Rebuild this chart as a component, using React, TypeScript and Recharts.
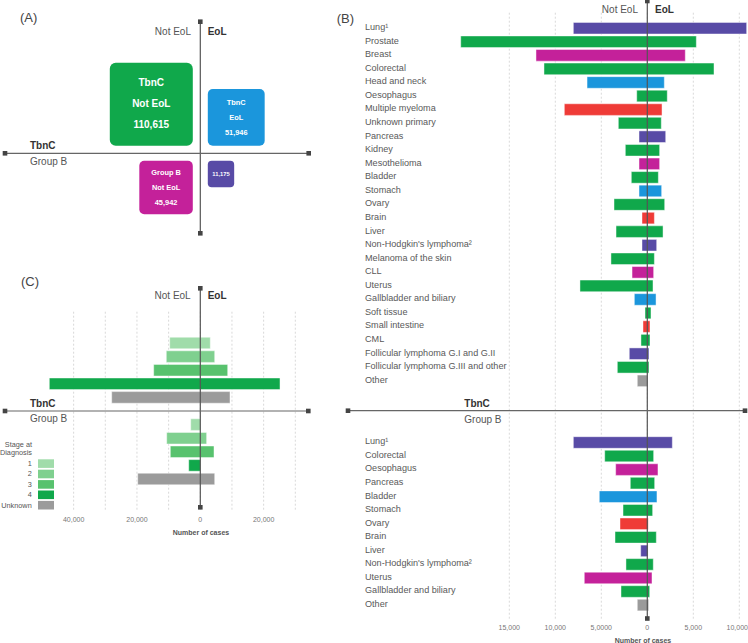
import React from 'react';
import { BarChart, Bar, XAxis, YAxis, CartesianGrid, Cell, ScatterChart, Scatter, ZAxis } from 'recharts';

const FONT = '"Liberation Sans", Arial, Helvetica, sans-serif';

// ---------- Panel A ----------
const aGroups = ['TbnC', 'TbnC', 'Group B', 'Group B'];
const aStatus = ['Not EoL', 'EoL', 'Not EoL', 'EoL'];
const aValues = [110615, 51946, 45942, 11175];

// ---------- Panel B (TbnC) ----------
const bTopCats = [
  'Lung¹', 'Prostate', 'Breast', 'Colorectal', 'Head and neck', 'Oesophagus', 'Multiple myeloma',
  'Unknown primary', 'Pancreas', 'Kidney', 'Mesothelioma', 'Bladder', 'Stomach', 'Ovary', 'Brain',
  'Liver', "Non-Hodgkin's lymphoma²", 'Melanoma of the skin', 'CLL', 'Uterus', 'Gallbladder and biliary',
  'Soft tissue', 'Small intestine', 'CML', 'Follicular lymphoma G.I and G.II',
  'Follicular lymphoma G.III and other', 'Other',
];
const bTopNotEol = [8040, 20280, 12100, 11230, 6550, 1150, 9020, 3150, 900, 2390, 900, 1740, 900, 3620, 580, 3400, 580, 3950, 1660, 7320, 1410, 250, 470, 690, 1960, 3260, 1090];
const bTopEol = [10800, 5330, 4130, 7250, 1850, 2170, 1600, 1520, 2000, 1340, 1340, 1200, 1560, 1890, 770, 1710, 1020, 770, 690, 620, 950, 400, 290, 290, 180, 180, 40];

// ---------- Panel B (Group B) ----------
const bBotCats = [
  'Lung¹', 'Colorectal', 'Oesophagus', 'Pancreas', 'Bladder', 'Stomach', 'Ovary', 'Brain', 'Liver',
  "Non-Hodgkin's lymphoma²", 'Uterus', 'Gallbladder and biliary', 'Other',
];
const bBotNotEol = [8040, 4630, 3440, 1850, 5220, 2640, 2970, 3510, 720, 2320, 6850, 2860, 1090];
const bBotEol = [2720, 690, 1160, 800, 1050, 580, 100, 980, 80, 650, 510, 260, 150];

const bTicks = [-15000, -10000, -5000, 0, 5000, 10000];
const bTickLabels = ['15,000', '10,000', '5,0000', '0', '5,000', '10,000'];

// ---------- Panel C ----------
const cStages = ['1', '2', '3', '4', 'Unknown'];
const cTbncNotEol = [9660, 10740, 14720, 47680, 27980];
const cTbncEol = [3160, 4550, 8650, 25170, 9380];
const cGroupBNotEol = [3030, 10610, 9470, 3660, 19770];
const cGroupBEol = [80, 2000, 4330, 50, 4550];
const cTicks = [-40000, -30000, -20000, -10000, 0, 10000, 20000, 30000];
const cTickLabels = ['40,000', '', '20,000', '', '0', '', '20,000', ''];

// ---------- Styles ----------
const C = {
  green: '#10a84b',
  blue: '#1b96dc',
  magenta: '#c4219a',
  purple: '#584ba6',
  red: '#ef3b37',
  gray: '#9b9b9b',
};
const aColors = [C.green, C.blue, C.magenta, C.purple];
const cycle = [C.purple, C.green, C.magenta, C.green, C.blue, C.green, C.red, C.green];
const bTopColors = bTopCats.map((n, i) => (n === 'Other' ? C.gray : cycle[i % 8]));
const bBotColors = bBotCats.map((n, i) => (n === 'Other' ? C.gray : cycle[i % 8]));
const cStageColors = ['#a0dcaa', '#7fd08f', '#58c26e', '#10a84b', '#9b9b9b'];

const B_DOMAIN: [number, number] = [-32533, 10945];
const C_DOMAIN: [number, number] = [-61670, 34230];

// ---------- data tables ----------
const aData = aValues.map((v, i) => ({ x: 0, y: 0, value: v, group: aGroups[i], status: aStatus[i] }));
const bTopData = bTopCats.map((name, i) => ({ name, range: [-bTopNotEol[i], bTopEol[i]] }));
const bBotData = bBotCats.map((name, i) => ({ name, range: [-bBotNotEol[i], bBotEol[i]] }));
const cData = [
  ...cStages.map((s, i) => ({ name: 'TbnC ' + s, range: [-cTbncNotEol[i], cTbncEol[i]], color: cStageColors[i] })),
  { name: 'gap', range: null as any, color: 'none' },
  ...cStages.map((s, i) => ({ name: 'Group B ' + s, range: [-cGroupBNotEol[i], cGroupBEol[i]], color: cStageColors[i] })),
];

const fmt = (v: number) => v.toLocaleString('en-US');

const BoxShape = (props: any) => {
  const { cx, cy, payload, fill } = props;
  const size = props.size != null ? props.size : Math.PI * Math.pow((props.width || 0) / 2, 2);
  const side = Math.sqrt(size);
  const gap = 7.5;
  const right = payload.status === 'EoL';
  const top = payload.group === 'TbnC';
  const x = right ? cx + gap : cx - gap - side;
  const y = top ? cy - gap - side : cy + gap;
  const rx = 3 + side * 0.035;
  const f = side >= 70 ? 10 : side >= 40 ? 7.4 : 5.8;
  const ls = f * 2.07;
  const lines = side >= 40 ? [payload.group, payload.status, fmt(payload.value)] : [fmt(payload.value)];
  const mid = y + side / 2 - (side >= 70 ? 1 : 0);
  const start = mid - ((lines.length - 1) * ls) / 2;
  return (
    <g>
      <rect x={x} y={y} width={side} height={side} rx={rx} ry={rx} fill={fill} />
      {lines.map((t, i) => (
        <text key={i} x={x + side / 2} y={start + i * ls} dy={f * 0.35} textAnchor="middle"
          fontSize={f} fontWeight="bold" fill="#fff" fontFamily={FONT}>{t}</text>
      ))}
    </g>
  );
};

const CatTick = (props: any) => (
  <text x={props.x} y={props.y} dy={1.9} textAnchor="start" fontSize={9.1} fill="#595959" fontFamily={FONT}>
    {props.payload.value}
  </text>
);

const BTick = (props: any) => {
  const i = bTicks.indexOf(props.payload.value);
  const nearEdge = props.x + 10.5 > 748 - 330;
  return (
    <text x={nearEdge ? 418 : props.x} y={props.y} dy="0.71em" textAnchor={nearEdge ? 'end' : 'middle'}
      fontSize={7} fill="#777" fontFamily={FONT}>
      {bTickLabels[i]}
    </text>
  );
};

const CTick = (props: any) => {
  const i = cTicks.indexOf(props.payload.value);
  return (
    <text x={props.x} y={props.y} dy="0.71em" textAnchor="middle" fontSize={7} fill="#777" fontFamily={FONT}>
      {cTickLabels[i]}
    </text>
  );
};

// grid lines only at the tick values (no lines on the plot edges)
const gridGen = (ticks: number[], domain: [number, number]) => (props: any) => {
  const sc = props && props.xAxis && props.xAxis.scale;
  if (typeof sc === 'function') return ticks.map((t) => sc(t));
  if (sc && typeof sc.map === 'function') return ticks.map((t) => sc.map(t));
  const off = props.offset;
  return ticks.map((t) => off.left + ((t - domain[0]) / (domain[1] - domain[0])) * off.width);
};

const Sq = ({ x, y }: { x: number; y: number }) => <rect x={x - 2.3} y={y - 2.3} width={4.6} height={4.6} fill="#444" />;

const Cross = ({ vx, vy1, vy2, hy, hx1, hx2 }: any) => (
  <g>
    <line x1={vx} x2={vx} y1={vy1} y2={vy2} stroke="#555" strokeWidth={1.2} />
    <line x1={hx1} x2={hx2} y1={hy} y2={hy} stroke="#666" strokeWidth={1.2} />
    <Sq x={vx} y={vy1} />
    <Sq x={vx} y={vy2} />
    <Sq x={hx1} y={hy} />
    <Sq x={hx2} y={hy} />
  </g>
);

const T = (p: any) => <text fontFamily={FONT} fontSize={10} fill="#555" {...p} />;

const barStroke = { stroke: '#ffffff', strokeOpacity: 0.45, strokeWidth: 1 };

export default function App() {
  const abs = (left: number, top: number): React.CSSProperties => ({ position: 'absolute', left, top });
  return (
    <div style={{ position: 'absolute', left: 0, top: 0, width: 748, height: 643, background: '#fff', overflow: 'hidden', fontFamily: FONT }}>
      {/* Panel A */}
      <div style={abs(0, 0)}>
        <ScatterChart width={330} height={250} margin={{ top: 0, right: 0, bottom: 0, left: 0 }}>
          <XAxis type="number" dataKey="x" domain={[-200.3, 129.7]} hide />
          <YAxis type="number" dataKey="y" domain={[-96.7, 153.3]} hide />
          <ZAxis type="number" dataKey="value" domain={[0, Math.max(...aValues)]} range={[0, 6889]} />
          <Scatter data={aData} shape={<BoxShape />} isAnimationActive={false}>
            {aData.map((d, i) => <Cell key={i} fill={aColors[i]} />)}
          </Scatter>
        </ScatterChart>
      </div>

      {/* Panel B top */}
      <div style={abs(330, 0)}>
        <BarChart layout="vertical" width={418} height={643} data={bTopData}
          margin={{ top: 12.7, right: 0, bottom: 23, left: 18 }} barSize={11.6}>
          <CartesianGrid horizontal={false} strokeDasharray="2 2" stroke="#d9d9d9"
            verticalCoordinatesGenerator={gridGen(bTicks, B_DOMAIN)} />
          <XAxis type="number" domain={B_DOMAIN} ticks={bTicks} height={0} tick={false} axisLine={false} tickLine={false} allowDataOverflow />
          <YAxis type="category" dataKey="name" mirror tickSize={0} tickMargin={17} axisLine={false} tickLine={false}
            interval={0} padding={{ top: 8.7, bottom: 232.4 }} tick={<CatTick />} />
          <Bar dataKey="range" isAnimationActive={false} {...barStroke}>
            {bTopData.map((d, i) => <Cell key={i} fill={bTopColors[i]} />)}
          </Bar>
        </BarChart>
      </div>

      {/* Panel B bottom */}
      <div style={abs(330, 0)}>
        <BarChart layout="vertical" width={418} height={643} data={bBotData}
          margin={{ top: 435.7, right: 0, bottom: 0, left: 18 }} barSize={11.6}>
          <XAxis type="number" domain={B_DOMAIN} ticks={bTicks} height={31.2} axisLine={false} tickLine={false}
            tickSize={0} tickMargin={13.4} tick={<BTick />} interval={0} allowDataOverflow />
          <YAxis type="category" dataKey="name" mirror tickSize={0} tickMargin={17} axisLine={false} tickLine={false}
            interval={0} tick={<CatTick />} />
          <Bar dataKey="range" isAnimationActive={false} {...barStroke}>
            {bBotData.map((d, i) => <Cell key={i} fill={bBotColors[i]} />)}
          </Bar>
        </BarChart>
      </div>

      {/* Panel C */}
      <div style={abs(0, 0)}>
        <BarChart layout="vertical" width={330} height={643} data={cData}
          margin={{ top: 311.7, right: 21.3, bottom: 111.3, left: 5 }} barSize={11.6}>
          <CartesianGrid horizontal={false} strokeDasharray="2 2" stroke="#d9d9d9"
            verticalCoordinatesGenerator={gridGen(cTicks, C_DOMAIN)} />
          <XAxis type="number" domain={C_DOMAIN} ticks={cTicks} height={20} axisLine={false} tickLine={false}
            tickSize={0} tickMargin={5.8} tick={<CTick />} interval={0} allowDataOverflow />
          <YAxis type="category" dataKey="name" hide padding={{ top: 24.5, bottom: 25.9 }} />
          <Bar dataKey="range" isAnimationActive={false} {...barStroke}>
            {cData.map((d, i) => <Cell key={i} fill={d.color} />)}
          </Bar>
        </BarChart>
      </div>

      {/* Overlay: axes crosshairs and annotations */}
      <svg width={748} height={643} style={{ position: 'absolute', left: 0, top: 0, pointerEvents: 'none' }}>
        {/* A */}
        <Cross vx={200.3} vy1={21.7} vy2={233.3} hy={153.3} hx1={5} hx2={308.7} />
        <T x={20} y={22} fontSize={13} fill="#444">(A)</T>
        <T x={191} y={35} textAnchor="end">Not EoL</T>
        <T x={207.7} y={35} fontWeight="bold" fill="#333">EoL</T>
        <T x={30} y={148.8} fontWeight="bold" fill="#333">TbnC</T>
        <T x={30} y={164.9}>Group B</T>

        {/* B */}
        <Cross vx={647.3} vy1={1} vy2={618.5} hy={410.7} hx1={348} hx2={745} />
        <T x={336.7} y={23} fontSize={13} fill="#444">(B)</T>
        <T x={638} y={13} textAnchor="end">Not EoL</T>
        <T x={655} y={13} fontWeight="bold" fill="#333">EoL</T>
        <T x={464.3} y={406.5} fontWeight="bold" fill="#333">TbnC</T>
        <T x={464.3} y={423.3}>Group B</T>
        <T x={643} y={642.6} textAnchor="middle" fontSize={7} fontWeight="bold" fill="#555">Number of cases</T>

        {/* C */}
        <Cross vx={200.3} vy1={288.3} vy2={507.3} hy={411} hx1={5} hx2={308.3} />
        <T x={21} y={286} fontSize={13} fill="#444">(C)</T>
        <T x={190.7} y={299.3} textAnchor="end">Not EoL</T>
        <T x={207.7} y={299.3} fontWeight="bold" fill="#333">EoL</T>
        <T x={30} y={406.7} fontWeight="bold" fill="#333">TbnC</T>
        <T x={30} y={421.5}>Group B</T>
        <T x={201} y={535.2} textAnchor="middle" fontSize={7} fontWeight="bold" fill="#555">Number of cases</T>

        {/* C legend */}
        <T x={32} y={446.5} textAnchor="end" fontSize={7.3}>Stage at</T>
        <T x={32} y={455.3} textAnchor="end" fontSize={7.3}>Diagnosis</T>
        {cStages.map((s, i) => (
          <g key={s}>
            <T x={31.7} y={466 + i * 10.4} textAnchor="end" fontSize={7.3}>{s}</T>
            <rect x={38} y={459.3 + i * 10.4} width={16} height={8.6} fill={cStageColors[i]} />
          </g>
        ))}
      </svg>
    </div>
  );
}
